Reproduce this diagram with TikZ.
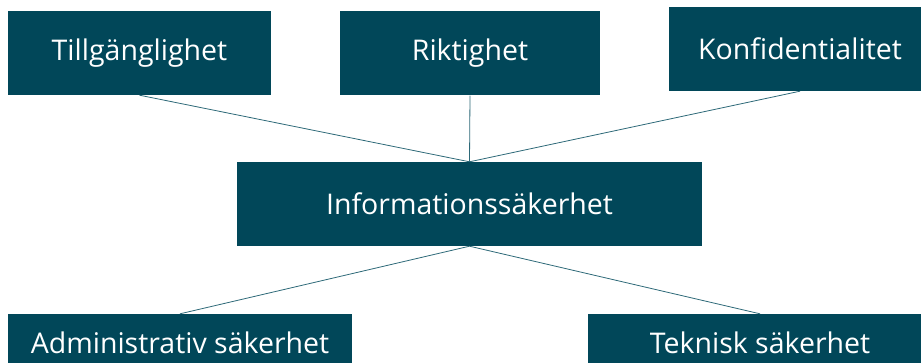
\documentclass[tikz,border=0pt]{standalone}
\usepackage{fontspec}
\setmainfont{Open Sans}
\usepackage{tikz}

\definecolor{boxteal}{RGB}{1,71,89}
\definecolor{lineteal}{RGB}{45,105,120}

\tikzset{
  infobox/.style={fill=boxteal, text=white, minimum height=84pt, inner sep=0pt,
    font=\fontsize{28.5}{34}\selectfont},
  link/.style={draw=lineteal, line width=0.8pt}
}

\begin{document}
\begin{tikzpicture}[x=1pt, y=-1pt]
  \clip (0,0) rectangle (921,363);

  % top row
  \foreach \name/\x/\w/\y/\txt in {till/139.5/263/53/Tillgänglighet,
                                   rikt/470/260/53.5/Riktighet,
                                   konf/800/262/49/Konfidentialitet} {
    \node[infobox, minimum width=\w pt] (\name) at (\x,\y) {\txt};
  }

  % centre
  \node[infobox, minimum width=465pt] (info) at (469.5,204) {Informationssäkerhet};

  % bottom row
  \node[infobox, minimum width=344pt, minimum height=58pt] (adm) at (180,343) {Administrativ säkerhet};
  \node[infobox, minimum width=344pt, minimum height=58pt] (tek) at (760,343) {Teknisk säkerhet};

  % connectors
  \foreach \a in {till,rikt,konf} {
    \draw[link] (\a.south) -- (info.north);
  }
  \foreach \b in {adm,tek} {
    \draw[link] (info.south) -- (\b.north);
  }
\end{tikzpicture}
\end{document}
